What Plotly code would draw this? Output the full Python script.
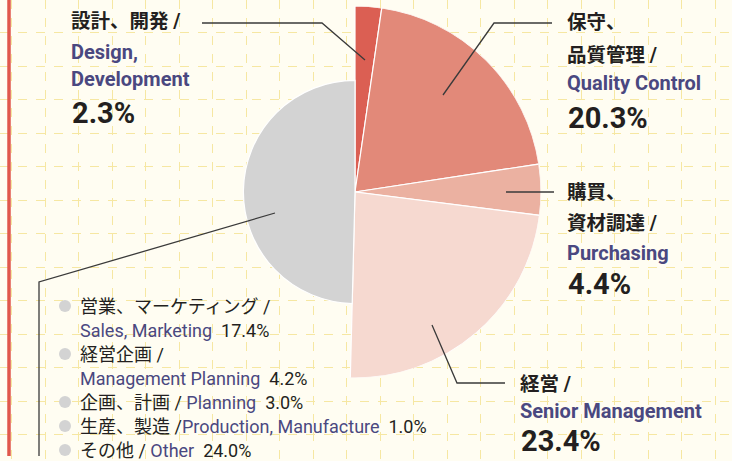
import plotly.graph_objects as go

# main slices (clockwise from 12 o'clock)
labels_ja = ["設計、開発", "保守、品質管理", "購買、資材調達", "経営", "その他"]
labels_en = ["Design, Development", "Quality Control", "Purchasing", "Senior Management", "Other"]
shares = [2.3, 20.3, 4.4, 23.4, 49.6]
slice_radius = [1.0, 1.0, 1.0, 1.0, 0.6]
slice_colors = ["#db5f53", "#e28979", "#ebb1a1", "#f6d9d0", "#d3d3d3"]

# breakdown of the grey slice
other_ja = ["営業、マーケティング", "経営企画", "企画、計画", "生産、製造", "その他"]
other_en = ["Sales, Marketing", "Management Planning", "Planning", "Production, Manufacture", "Other"]
other_values = [17.4, 4.2, 3.0, 1.0, 24.0]

W, H = 732, 461
PURPLE = "#4a4880"
INK = "#231f20"
FONT = "Roboto, 'Noto Sans CJK JP', sans-serif"

# slice geometry in degrees
widths = [s * 3.6 for s in shares]
thetas = []
acc = 0
for w in widths:
    thetas.append(acc + w / 2)
    acc += w

fig = go.Figure()

# invisible trace so the pixel-like cartesian grid gets drawn
fig.add_trace(go.Scatter(x=[0, W], y=[0, H], mode="markers", marker=dict(opacity=0),
                         hoverinfo="skip", showlegend=False))

fig.add_trace(go.Barpolar(
    r=slice_radius, theta=thetas, width=widths,
    marker=dict(color=slice_colors, line=dict(color="white", width=1.2)),
    hoverinfo="skip", showlegend=False,
))

cx, cy, R = 355, 192, 186
fig.update_layout(
    width=W, height=H,
    margin=dict(l=0, r=0, t=0, b=0),
    paper_bgcolor="#fffdf2",
    plot_bgcolor="#fffdf2",
    xaxis=dict(range=[0, W], showgrid=True, gridcolor="#f6e7a2", griddash="dash", gridwidth=1,
               tick0=11.5, dtick=33.5, showticklabels=False, zeroline=False, ticks=""),
    yaxis=dict(range=[H, 0], showgrid=True, gridcolor="#f6e7a2", griddash="dash", gridwidth=1,
               tick0=32.5, dtick=33.5, showticklabels=False, zeroline=False, ticks=""),
    polar=dict(
        domain=dict(x=[(cx - R) / W, (cx + R) / W], y=[(H - cy - R) / H, (H - cy + R) / H]),
        bgcolor="rgba(0,0,0,0)",
        radialaxis=dict(range=[0, 1], visible=False),
        angularaxis=dict(direction="clockwise", rotation=90, visible=False),
        bargap=0,
    ),
)

# red margin rule
fig.add_shape(type="line", x0=9, x1=9, y0=0, y1=456, xref="x", yref="y",
              line=dict(color="#e0574c", width=3.5))

# leader lines
leaders = [
    [(202, 23), (322, 23), (365, 60)],
    [(443, 95), (494, 23), (552, 23)],
    [(506, 192), (554, 192)],
    [(432, 325), (457, 383), (505, 383)],
    [(275, 213), (39, 282), (39, 456)],
]
for pts in leaders:
    path = "M " + " L ".join(f"{x},{y}" for x, y in pts)
    fig.add_shape(type="path", path=path, xref="x", yref="y", layer="above",
                  line=dict(color="#3a3a3a", width=1.3))


def label(x, y, text, size, color=INK, bold=False):
    if bold:
        text = f"<b>{text}</b>"
    fig.add_annotation(x=x, y=y, xref="x", yref="y", text=text, showarrow=False,
                       xanchor="left", yanchor="middle",
                       font=dict(family=FONT, size=size, color=color))


def pct(v):
    return f"{v:.1f}%"


# big headline labels
label(69, 21, "設計、開発 /", 19.5, bold=True)
label(69, 52, "Design,", 20, PURPLE, True)
label(69, 79, "Development", 20, PURPLE, True)
label(70, 113, pct(shares[0]), 29, bold=True)

label(565, 22, "保守、", 19.5, bold=True)
label(565, 55, "品質管理 /", 19.5, bold=True)
label(565, 83, labels_en[1], 20, PURPLE, True)
label(566, 118, pct(shares[1]), 29, bold=True)

label(565, 192, "購買、", 19.5, bold=True)
label(565, 223, "資材調達 /", 19.5, bold=True)
label(565, 253, labels_en[2], 20, PURPLE, True)
label(566, 284, pct(shares[2]), 29, bold=True)

label(518, 384, labels_ja[3] + " /", 19.5, bold=True)
label(518, 411, labels_en[3], 20, PURPLE, True)
label(519, 441, pct(shares[3]), 29, bold=True)

# breakdown list
sp = "\u00a0\u00a0"
rows = [
    (306, True, f"{other_ja[0]} /"),
    (330, False, f"<span style='color:{PURPLE}'>{other_en[0]}</span>{sp}{pct(other_values[0])}"),
    (354, True, f"{other_ja[1]} /"),
    (378, False, f"<span style='color:{PURPLE}'>{other_en[1]}</span>{sp}{pct(other_values[1])}"),
    (402, True, f"{other_ja[2]} / <span style='color:{PURPLE}'>{other_en[2]}</span>{sp}{pct(other_values[2])}"),
    (426, True, f"{other_ja[3]} /<span style='color:{PURPLE}'>{other_en[3]}</span>{sp}{pct(other_values[3])}"),
    (450, True, f"{other_ja[4]} / <span style='color:{PURPLE}'>{other_en[4]}</span>{sp}{pct(other_values[4])}"),
]
for y, bullet, text in rows:
    if bullet:
        fig.add_shape(type="circle", xref="x", yref="y", x0=59, x1=71, y0=y - 6, y1=y + 6,
                      fillcolor="#d3d3d3", line=dict(width=0))
    label(78, y, text, 18)

# drop the default page margin so the figure sits flush in the window
fig.write_html("out.html", config={"displayModeBar": False},
               post_script="document.body.style.margin='0';")
